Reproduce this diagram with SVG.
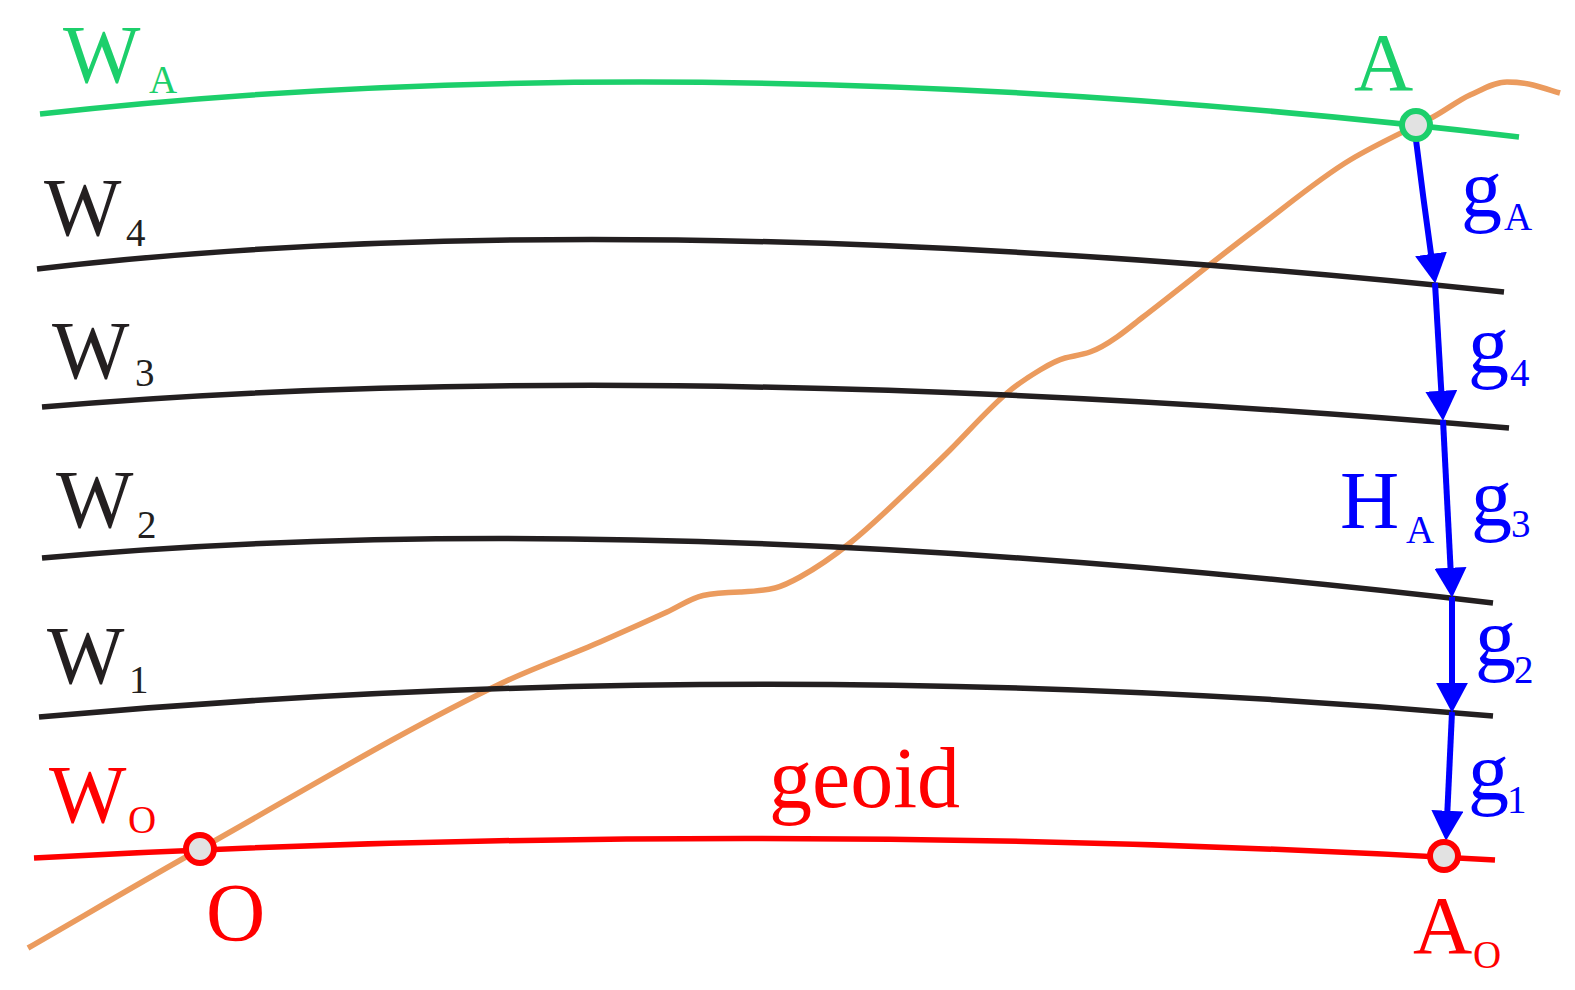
<svg xmlns="http://www.w3.org/2000/svg" width="1575" height="990" viewBox="0 0 1575 990">
<style>
  .lbl { font-family: "Liberation Serif", "Times New Roman", serif; font-size: 82px; }
  .sub { font-size: 39px; }
  .lvl { fill: none; stroke-width: 5.5; stroke-linecap: butt; }
  .blk { stroke: #231f20; }
  .grn { stroke: #1ccf6b; }
  .red { stroke: #ff0000; }
  .conn { stroke: #0000ff; stroke-width: 6; fill: none; marker-end: url(#arr); }
  .pt { fill: #e2e2e2; stroke-width: 6; }
</style>
<defs>
  <marker id="arr" markerUnits="userSpaceOnUse" markerWidth="30" markerHeight="32" refX="18" refY="15" orient="auto" viewBox="0 0 28 30">
    <path d="M0,0 L28,15 L0,30 z" fill="#0000ff"/>
  </marker>
</defs>
<rect width="1575" height="990" fill="#ffffff"/>

<!-- terrain profile -->
<path id="terrain" fill="none" stroke="#eb9b5e" stroke-width="5.5" stroke-linecap="butt"
 d="M28,948 C85.3,915 142.7,881.1 200,849 C300.7,792.6 401.3,731.3 502,683 C534.7,667.3 567.3,656.4 600,642 C622.3,632.2 644.7,622 667,612 C680,606 690,598.5 703,595.5 C715,593 727,592.5 740,592 C751.7,591.4 763.3,590.9 775,588 C783.3,585.9 791.7,581.6 800,577 C816.7,567.8 833.3,556.3 850,543 C866,530.2 882,515.2 898,500 C915.3,483.5 932.7,467.3 950,450 C969,431 988,409.2 1007,393 C1018,383.7 1029,376.6 1040,370 C1048.3,365 1056.7,360.1 1065,358 C1073.3,355.9 1081.7,354.9 1090,352 C1099,348.9 1108,343.3 1117,337 C1125.7,330.9 1134.3,323.7 1143,317 C1180.7,288 1218.3,257.3 1256,229 C1287.3,205.5 1318.7,178.8 1350,160 C1377.7,143.4 1405.3,131.4 1433,117 C1445.3,110.6 1457.7,100.6 1470,95 C1482.3,89.5 1494.7,82 1507,82 C1515.7,82 1524.3,82.8 1533,85 C1542,87.3 1551,90.3 1560,93"/>

<!-- level surfaces -->
<g id="WA">
  <path class="lvl grn" d="M40,114 Q700,40 1519,137"/>
  <text class="lbl" fill="#1ccf6b" x="63" y="82">W<tspan class="sub" x="149" y="93">A</tspan></text>
</g>
<g id="W4">
  <path class="lvl blk" d="M37,269 Q620,200 1504,292"/>
  <text class="lbl" fill="#231f20" x="44" y="235">W<tspan class="sub" x="126" y="246">4</tspan></text>
</g>
<g id="W3">
  <path class="lvl blk" d="M42,407 Q650,355 1509,428"/>
  <text class="lbl" fill="#231f20" x="52" y="378">W<tspan class="sub" x="135" y="386">3</tspan></text>
</g>
<g id="W2">
  <path class="lvl blk" d="M42,558 Q640,503 1493,603"/>
  <text class="lbl" fill="#231f20" x="56" y="527">W<tspan class="sub" x="137" y="538">2</tspan></text>
</g>
<g id="W1">
  <path class="lvl blk" d="M39,717 Q760,652 1493,716"/>
  <text class="lbl" fill="#231f20" x="47" y="683">W<tspan class="sub" x="129" y="693">1</tspan></text>
</g>
<g id="geoid">
  <path class="lvl red" d="M34,858 Q760,818 1495,860"/>
  <text class="lbl" fill="#ff0000" x="49" y="822">W<tspan class="sub" x="128" y="833">O</tspan></text>
  <text class="lbl" fill="#ff0000" x="769" y="807" style="font-size:86px">geoid</text>
</g>

<!-- connectors: gravity along plumb line -->
<g id="connectors">
  <path class="conn" d="M1416,140 Q1424,205 1433.7,273"/>
  <line class="conn" x1="1435" y1="283" x2="1442.4" y2="410"/>
  <line class="conn" x1="1443" y1="420" x2="1451.5" y2="587"/>
  <line class="conn" x1="1452" y1="597" x2="1452" y2="702"/>
  <line class="conn" x1="1452" y1="712" x2="1446.5" y2="830"/>
</g>

<!-- gravity labels -->
<g id="labels-g" fill="#0000ff">
  <text class="lbl" x="1461" y="216">g<tspan class="sub" x="1504" y="230">A</tspan></text>
  <text class="lbl" x="1468" y="372">g<tspan class="sub" x="1510" y="386">4</tspan></text>
  <text class="lbl" x="1340" y="528">H<tspan class="sub" x="1406" y="543">A</tspan></text>
  <text class="lbl" x="1471" y="525">g<tspan class="sub" x="1511" y="537">3</tspan></text>
  <text class="lbl" x="1475" y="665">g<tspan class="sub" x="1514" y="683">2</tspan></text>
  <text class="lbl" x="1468" y="799">g<tspan class="sub" x="1507" y="813">1</tspan></text>
</g>

<!-- points -->
<g id="pointA">
  <circle class="pt" cx="1416" cy="125" r="14" stroke="#1ccf6b"/>
  <text class="lbl" fill="#1ccf6b" x="1354" y="90">A</text>
</g>
<g id="pointO">
  <circle class="pt" cx="200" cy="849" r="14" stroke="#ff0000"/>
  <text class="lbl" fill="#ff0000" x="206" y="940">O</text>
</g>
<g id="pointAO">
  <circle class="pt" cx="1444" cy="856" r="14" stroke="#ff0000"/>
  <text class="lbl" fill="#ff0000" x="1413" y="953">A<tspan class="sub" x="1473" y="968">O</tspan></text>
</g>
</svg>
